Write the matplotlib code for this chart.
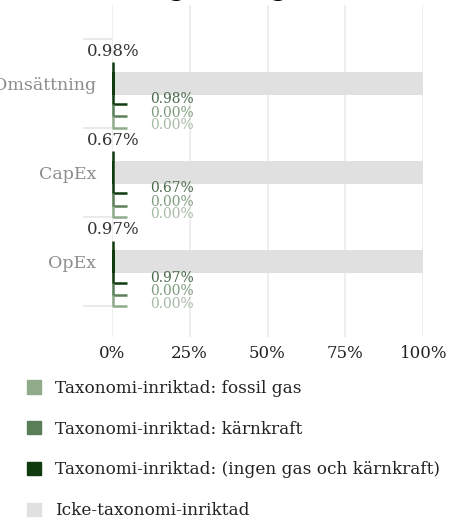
import numpy as np
import matplotlib.pyplot as plt
from matplotlib.patches import Patch

categories = ['Omsättning', 'CapEx', 'OpEx']
aligned = [0.98, 0.67, 0.97]        # ingen gas och kärnkraft
nuclear = [0.00, 0.00, 0.00]        # kärnkraft
fossil_gas = [0.00, 0.00, 0.00]     # fossil gas
not_aligned = [99.02, 99.33, 99.03]
ticks = [0, 25, 50, 75, 100]
legend_labels = ['Taxonomi-inriktad: fossil gas',
                 'Taxonomi-inriktad: kärnkraft',
                 'Taxonomi-inriktad: (ingen gas och kärnkraft)',
                 'Icke-taxonomi-inriktad']

dark = '#0f3b0f'
mid = '#5a7f58'
light = '#8fab8a'
grey = '#e0e0e0'

plt.rcParams['font.family'] = ['DejaVu Serif']

fig = plt.figure(figsize=(4.49, 5.18), dpi=100)
ax = fig.add_axes([111.7 / 449, 181 / 518, 311.6 / 449, 332 / 518])

u = 1 / 89  # data units per pixel on y
y = np.arange(len(categories))

ax.barh(y, aligned, height=23 * u, color=dark, zorder=2)
ax.barh(y, not_aligned, left=aligned, height=23 * u, color=grey, zorder=2)

# brackets + labels for the sub rows
sub = [(aligned, dark, '#4b6b4b', -21, 21, 16),
       (nuclear, mid, '#7f9c7d', 21, 33, 29.5),
       (fossil_gas, light, '#a7bba5', 33, 44.5, 42)]
for i in y:
    ax.text(0.4, i - 31.5 * u, f'{aligned[i]:.2f}%', ha='center', va='center',
            fontsize=12, color='#333333', zorder=4)
    for vals, c, tc, ya, yb, yl in sub:
        ax.plot([0.4, 0.4, 5.0], [i + ya * u, i + yb * u, i + yb * u],
                color=c, lw=1.8, solid_capstyle='butt', zorder=3)
        ax.text(12.3, i + yl * u, f'{vals[i]:.2f}%', ha='left', va='center',
                fontsize=10, color=tc, zorder=4)

ax.set_xlim(0, 100)
ax.set_ylim(2 + 75.5 * u, -78.5 * u)
for s in ax.spines.values():
    s.set_visible(False)

ax.set_xticks(ticks)
ax.set_xticklabels([f'{t}%' for t in ticks])
ax.tick_params(axis='x', length=0, pad=6, labelsize=12, labelcolor='#222222')
ax.grid(axis='x', color='#ebebeb', lw=1.2)
ax.set_axisbelow(True)

ax.set_yticks(y)
ax.set_yticklabels(categories)
ax.tick_params(axis='y', which='major', length=0, pad=11, labelsize=12.5,
               labelcolor='#8c8c8c')
ax.set_yticks([-0.5, 0.5, 1.5, 2.5], minor=True)
ax.tick_params(axis='y', which='minor', length=21, width=1.2, color='#e6e6e6')

fig.text(34 / 449, 1 + 4 / 518, 'Investeringar enligt taxonomin', fontsize=17,
         fontweight='bold', family='DejaVu Sans', va='baseline', ha='left')

handles = [Patch(color=light), Patch(color=mid), Patch(color=dark), Patch(color=grey)]
leg = fig.legend(handles, legend_labels, loc='upper left',
                 bbox_to_anchor=(27 / 449, 1 - 380 / 518), frameon=False,
                 fontsize=12.2, handlelength=0.83, handleheight=0.83,
                 handletextpad=0.83, labelspacing=1.4, borderpad=0, borderaxespad=0)
for t in leg.get_texts():
    t.set_color('#222222')

fig.savefig('out.png', dpi=100)
